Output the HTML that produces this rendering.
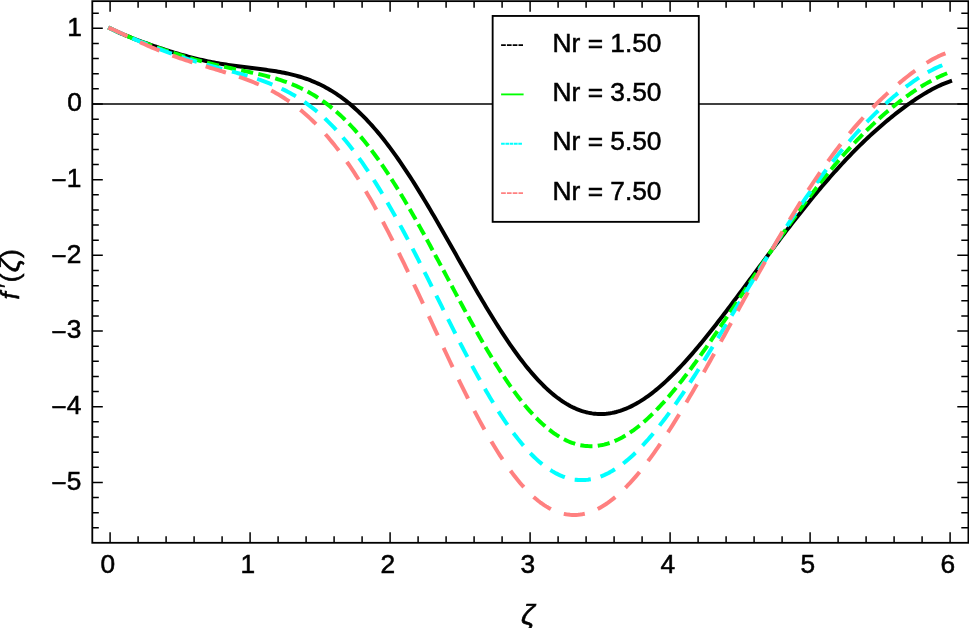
<!DOCTYPE html>
<html><head><meta charset="utf-8"><title>plot</title>
<style>
html,body{margin:0;padding:0;background:#fff;overflow:hidden}
svg{display:block}
text{font-family:"Liberation Sans",sans-serif;fill:#000;stroke:#000;stroke-width:0.55px}
</style></head><body>
<svg width="969" height="628" viewBox="0 0 969 628">
<rect x="0" y="0" width="969" height="628" fill="#fff"/>
<line x1="92.3" y1="104.00" x2="968.4" y2="104.00" stroke="#000" stroke-width="1.4"/>
<path d="M110.10,28.32 L112.10,29.32 L114.10,30.30 L116.10,31.24 L118.10,32.16 L120.10,33.05 L122.10,33.92 L124.10,34.77 L126.10,35.60 L128.10,36.42 L130.10,37.22 L132.10,38.01 L134.10,38.79 L136.10,39.55 L138.10,40.31 L140.10,41.06 L142.10,41.79 L144.10,42.52 L146.10,43.24 L148.10,43.96 L150.10,44.66 L152.10,45.36 L154.10,46.05 L156.10,46.74 L158.10,47.42 L160.10,48.09 L162.10,48.75 L164.10,49.41 L166.10,50.05 L168.10,50.69 L170.10,51.33 L172.10,51.95 L174.10,52.56 L176.10,53.17 L178.10,53.76 L180.10,54.35 L182.10,54.92 L184.10,55.49 L186.10,56.04 L188.10,56.58 L190.10,57.11 L192.10,57.63 L194.10,58.14 L196.10,58.63 L198.10,59.12 L200.10,59.59 L202.10,60.04 L204.10,60.49 L206.10,60.92 L208.10,61.34 L210.10,61.75 L212.10,62.14 L214.10,62.53 L216.10,62.90 L218.10,63.26 L220.10,63.60 L222.10,63.94 L224.10,64.27 L226.10,64.58 L228.10,64.89 L230.10,65.19 L232.10,65.48 L234.10,65.76 L236.10,66.03 L238.10,66.30 L240.10,66.56 L242.10,66.81 L244.10,67.06 L246.10,67.31 L248.10,67.56 L250.10,67.80 L252.10,68.05 L254.10,68.29 L256.10,68.54 L258.10,68.79 L260.10,69.04 L262.10,69.30 L264.10,69.56 L266.10,69.83 L268.10,70.11 L270.10,70.40 L272.10,70.70 L274.10,71.02 L276.10,71.34 L278.10,71.69 L280.10,72.04 L282.10,72.42 L284.10,72.81 L286.10,73.23 L288.10,73.66 L290.10,74.12 L292.10,74.60 L294.10,75.11 L296.10,75.64 L298.10,76.20 L300.10,76.79 L302.10,77.42 L304.10,78.07 L306.10,78.75 L308.10,79.47 L310.10,80.23 L312.10,81.02 L314.10,81.84 L316.10,82.71 L318.10,83.61 L320.10,84.56 L322.10,85.55 L324.10,86.58 L326.10,87.65 L328.10,88.77 L330.10,89.93 L332.10,91.14 L334.10,92.39 L336.10,93.69 L338.10,95.04 L340.10,96.44 L342.10,97.89 L344.10,99.38 L346.10,100.93 L348.10,102.53 L350.10,104.17 L352.10,105.87 L354.10,107.62 L356.10,109.43 L358.10,111.28 L360.10,113.18 L362.10,115.14 L364.10,117.15 L366.10,119.21 L368.10,121.33 L370.10,123.49 L372.10,125.71 L374.10,127.98 L376.10,130.29 L378.10,132.66 L380.10,135.08 L382.10,137.55 L384.10,140.07 L386.10,142.63 L388.10,145.25 L390.10,147.91 L392.10,150.61 L394.10,153.36 L396.10,156.16 L398.10,159.00 L400.10,161.89 L402.10,164.81 L404.10,167.78 L406.10,170.78 L408.10,173.83 L410.10,176.91 L412.10,180.02 L414.10,183.18 L416.10,186.36 L418.10,189.58 L420.10,192.83 L422.10,196.11 L424.10,199.42 L426.10,202.75 L428.10,206.11 L430.10,209.49 L432.10,212.89 L434.10,216.32 L436.10,219.76 L438.10,223.22 L440.10,226.70 L442.10,230.19 L444.10,233.69 L446.10,237.20 L448.10,240.73 L450.10,244.25 L452.10,247.79 L454.10,251.33 L456.10,254.86 L458.10,258.40 L460.10,261.94 L462.10,265.47 L464.10,269.00 L466.10,272.52 L468.10,276.03 L470.10,279.53 L472.10,283.02 L474.10,286.49 L476.10,289.95 L478.10,293.39 L480.10,296.80 L482.10,300.20 L484.10,303.57 L486.10,306.92 L488.10,310.25 L490.10,313.54 L492.10,316.80 L494.10,320.03 L496.10,323.23 L498.10,326.39 L500.10,329.52 L502.10,332.61 L504.10,335.66 L506.10,338.67 L508.10,341.63 L510.10,344.55 L512.10,347.43 L514.10,350.25 L516.10,353.03 L518.10,355.76 L520.10,358.44 L522.10,361.07 L524.10,363.64 L526.10,366.16 L528.10,368.63 L530.10,371.03 L532.10,373.38 L534.10,375.67 L536.10,377.90 L538.10,380.07 L540.10,382.18 L542.10,384.22 L544.10,386.21 L546.10,388.12 L548.10,389.98 L550.10,391.76 L552.10,393.48 L554.10,395.14 L556.10,396.72 L558.10,398.24 L560.10,399.69 L562.10,401.07 L564.10,402.39 L566.10,403.63 L568.10,404.80 L570.10,405.91 L572.10,406.94 L574.10,407.90 L576.10,408.79 L578.10,409.61 L580.10,410.37 L582.10,411.05 L584.10,411.65 L586.10,412.19 L588.10,412.66 L590.10,413.06 L592.10,413.39 L594.10,413.65 L596.10,413.84 L598.10,413.95 L600.10,414.01 L602.10,413.99 L604.10,413.90 L606.10,413.75 L608.10,413.53 L610.10,413.24 L612.10,412.89 L614.10,412.47 L616.10,411.98 L618.10,411.44 L620.10,410.83 L622.10,410.15 L624.10,409.41 L626.10,408.62 L628.10,407.76 L630.10,406.84 L632.10,405.86 L634.10,404.83 L636.10,403.73 L638.10,402.59 L640.10,401.38 L642.10,400.12 L644.10,398.81 L646.10,397.44 L648.10,396.03 L650.10,394.56 L652.10,393.04 L654.10,391.47 L656.10,389.86 L658.10,388.20 L660.10,386.49 L662.10,384.74 L664.10,382.94 L666.10,381.11 L668.10,379.23 L670.10,377.31 L672.10,375.35 L674.10,373.35 L676.10,371.31 L678.10,369.24 L680.10,367.14 L682.10,365.00 L684.10,362.82 L686.10,360.62 L688.10,358.38 L690.10,356.12 L692.10,353.82 L694.10,351.50 L696.10,349.15 L698.10,346.78 L700.10,344.38 L702.10,341.96 L704.10,339.51 L706.10,337.04 L708.10,334.56 L710.10,332.05 L712.10,329.53 L714.10,326.99 L716.10,324.43 L718.10,321.85 L720.10,319.26 L722.10,316.66 L724.10,314.05 L726.10,311.42 L728.10,308.78 L730.10,306.13 L732.10,303.48 L734.10,300.81 L736.10,298.14 L738.10,295.46 L740.10,292.77 L742.10,290.08 L744.10,287.39 L746.10,284.69 L748.10,281.99 L750.10,279.29 L752.10,276.59 L754.10,273.88 L756.10,271.18 L758.10,268.48 L760.10,265.78 L762.10,263.08 L764.10,260.39 L766.10,257.70 L768.10,255.01 L770.10,252.33 L772.10,249.66 L774.10,246.99 L776.10,244.33 L778.10,241.68 L780.10,239.03 L782.10,236.40 L784.10,233.77 L786.10,231.15 L788.10,228.55 L790.10,225.95 L792.10,223.37 L794.10,220.80 L796.10,218.24 L798.10,215.69 L800.10,213.16 L802.10,210.64 L804.10,208.13 L806.10,205.64 L808.10,203.16 L810.10,200.70 L812.10,198.26 L814.10,195.83 L816.10,193.42 L818.10,191.03 L820.10,188.65 L822.10,186.29 L824.10,183.95 L826.10,181.63 L828.10,179.32 L830.10,177.04 L832.10,174.77 L834.10,172.53 L836.10,170.30 L838.10,168.09 L840.10,165.90 L842.10,163.74 L844.10,161.59 L846.10,159.47 L848.10,157.36 L850.10,155.28 L852.10,153.22 L854.10,151.18 L856.10,149.16 L858.10,147.16 L860.10,145.19 L862.10,143.23 L864.10,141.30 L866.10,139.39 L868.10,137.50 L870.10,135.64 L872.10,133.79 L874.10,131.97 L876.10,130.17 L878.10,128.39 L880.10,126.64 L882.10,124.91 L884.10,123.20 L886.10,121.51 L888.10,119.84 L890.10,118.20 L892.10,116.58 L894.10,114.98 L896.10,113.41 L898.10,111.86 L900.10,110.33 L902.10,108.82 L904.10,107.34 L906.10,105.88 L908.10,104.45 L910.10,103.04 L912.10,101.65 L914.10,100.30 L916.10,98.96 L918.10,97.65 L920.10,96.37 L922.10,95.12 L924.10,93.90 L926.10,92.71 L928.10,91.54 L930.10,90.41 L932.10,89.32 L934.10,88.26 L936.10,87.24 L938.10,86.26 L940.10,85.32 L942.10,84.42 L944.10,83.57 L946.10,82.78 L948.10,82.03 L950.10,81.35" fill="none" stroke="#000000" stroke-width="4" stroke-linejoin="round" stroke-linecap="square"/>
<path d="M110.10,28.32 L112.10,29.31 L114.10,30.27 L116.10,31.21 L118.10,32.12 L120.10,33.02 L122.10,33.89 L124.10,34.75 L126.10,35.59 L128.10,36.42 L130.10,37.23 L132.10,38.04 L134.10,38.83 L136.10,39.62 L138.10,40.39 L140.10,41.16 L142.10,41.92 L144.10,42.68 L146.10,43.42 L148.10,44.17 L150.10,44.90 L152.10,45.63 L154.10,46.35 L156.10,47.07 L158.10,47.78 L160.10,48.48 L162.10,49.18 L164.10,49.87 L166.10,50.56 L168.10,51.24 L170.10,51.91 L172.10,52.57 L174.10,53.23 L176.10,53.87 L178.10,54.51 L180.10,55.15 L182.10,55.77 L184.10,56.38 L186.10,56.99 L188.10,57.58 L190.10,58.17 L192.10,58.74 L194.10,59.31 L196.10,59.87 L198.10,60.42 L200.10,60.95 L202.10,61.48 L204.10,62.00 L206.10,62.51 L208.10,63.01 L210.10,63.50 L212.10,63.99 L214.10,64.46 L216.10,64.93 L218.10,65.39 L220.10,65.84 L222.10,66.29 L224.10,66.73 L226.10,67.16 L228.10,67.59 L230.10,68.01 L232.10,68.44 L234.10,68.85 L236.10,69.27 L238.10,69.69 L240.10,70.10 L242.10,70.52 L244.10,70.93 L246.10,71.35 L248.10,71.78 L250.10,72.21 L252.10,72.64 L254.10,73.08 L256.10,73.53 L258.10,73.98 L260.10,74.45 L262.10,74.93 L264.10,75.42 L266.10,75.92 L268.10,76.44 L270.10,76.97 L272.10,77.53 L274.10,78.10 L276.10,78.69 L278.10,79.30 L280.10,79.93 L282.10,80.59 L284.10,81.27 L286.10,81.98 L288.10,82.72 L290.10,83.48 L292.10,84.28 L294.10,85.10 L296.10,85.96 L298.10,86.85 L300.10,87.77 L302.10,88.74 L304.10,89.73 L306.10,90.77 L308.10,91.84 L310.10,92.96 L312.10,94.11 L314.10,95.31 L316.10,96.55 L318.10,97.83 L320.10,99.16 L322.10,100.53 L324.10,101.95 L326.10,103.42 L328.10,104.93 L330.10,106.50 L332.10,108.11 L334.10,109.77 L336.10,111.48 L338.10,113.24 L340.10,115.05 L342.10,116.91 L344.10,118.83 L346.10,120.79 L348.10,122.81 L350.10,124.88 L352.10,127.00 L354.10,129.17 L356.10,131.40 L358.10,133.68 L360.10,136.01 L362.10,138.39 L364.10,140.82 L366.10,143.31 L368.10,145.84 L370.10,148.43 L372.10,151.07 L374.10,153.75 L376.10,156.49 L378.10,159.27 L380.10,162.11 L382.10,164.99 L384.10,167.91 L386.10,170.88 L388.10,173.90 L390.10,176.96 L392.10,180.06 L394.10,183.21 L396.10,186.39 L398.10,189.62 L400.10,192.88 L402.10,196.18 L404.10,199.52 L406.10,202.89 L408.10,206.30 L410.10,209.74 L412.10,213.21 L414.10,216.71 L416.10,220.23 L418.10,223.79 L420.10,227.36 L422.10,230.97 L424.10,234.59 L426.10,238.23 L428.10,241.89 L430.10,245.57 L432.10,249.27 L434.10,252.97 L436.10,256.69 L438.10,260.42 L440.10,264.15 L442.10,267.90 L444.10,271.64 L446.10,275.39 L448.10,279.14 L450.10,282.89 L452.10,286.64 L454.10,290.38 L456.10,294.12 L458.10,297.84 L460.10,301.56 L462.10,305.26 L464.10,308.95 L466.10,312.63 L468.10,316.28 L470.10,319.92 L472.10,323.53 L474.10,327.13 L476.10,330.69 L478.10,334.23 L480.10,337.74 L482.10,341.22 L484.10,344.67 L486.10,348.08 L488.10,351.46 L490.10,354.80 L492.10,358.10 L494.10,361.36 L496.10,364.58 L498.10,367.75 L500.10,370.88 L502.10,373.96 L504.10,376.99 L506.10,379.97 L508.10,382.91 L510.10,385.78 L512.10,388.61 L514.10,391.37 L516.10,394.08 L518.10,396.74 L520.10,399.33 L522.10,401.86 L524.10,404.33 L526.10,406.74 L528.10,409.08 L530.10,411.36 L532.10,413.57 L534.10,415.71 L536.10,417.79 L538.10,419.80 L540.10,421.74 L542.10,423.61 L544.10,425.40 L546.10,427.13 L548.10,428.78 L550.10,430.36 L552.10,431.87 L554.10,433.30 L556.10,434.66 L558.10,435.94 L560.10,437.15 L562.10,438.29 L564.10,439.34 L566.10,440.32 L568.10,441.23 L570.10,442.06 L572.10,442.81 L574.10,443.49 L576.10,444.09 L578.10,444.61 L580.10,445.06 L582.10,445.43 L584.10,445.73 L586.10,445.95 L588.10,446.09 L590.10,446.16 L592.10,446.16 L594.10,446.08 L596.10,445.92 L598.10,445.69 L600.10,445.39 L602.10,445.02 L604.10,444.58 L606.10,444.06 L608.10,443.47 L610.10,442.82 L612.10,442.09 L614.10,441.30 L616.10,440.43 L618.10,439.50 L620.10,438.51 L622.10,437.45 L624.10,436.32 L626.10,435.13 L628.10,433.88 L630.10,432.57 L632.10,431.19 L634.10,429.76 L636.10,428.26 L638.10,426.71 L640.10,425.10 L642.10,423.44 L644.10,421.72 L646.10,419.95 L648.10,418.12 L650.10,416.25 L652.10,414.32 L654.10,412.34 L656.10,410.32 L658.10,408.25 L660.10,406.13 L662.10,403.97 L664.10,401.77 L666.10,399.52 L668.10,397.23 L670.10,394.90 L672.10,392.54 L674.10,390.14 L676.10,387.70 L678.10,385.22 L680.10,382.71 L682.10,380.17 L684.10,377.60 L686.10,374.99 L688.10,372.36 L690.10,369.70 L692.10,367.01 L694.10,364.30 L696.10,361.56 L698.10,358.80 L700.10,356.01 L702.10,353.21 L704.10,350.38 L706.10,347.54 L708.10,344.67 L710.10,341.79 L712.10,338.90 L714.10,335.99 L716.10,333.06 L718.10,330.13 L720.10,327.18 L722.10,324.22 L724.10,321.25 L726.10,318.28 L728.10,315.29 L730.10,312.30 L732.10,309.30 L734.10,306.30 L736.10,303.29 L738.10,300.28 L740.10,297.27 L742.10,294.25 L744.10,291.24 L746.10,288.23 L748.10,285.21 L750.10,282.20 L752.10,279.19 L754.10,276.19 L756.10,273.19 L758.10,270.19 L760.10,267.20 L762.10,264.21 L764.10,261.24 L766.10,258.27 L768.10,255.31 L770.10,252.35 L772.10,249.41 L774.10,246.48 L776.10,243.56 L778.10,240.65 L780.10,237.75 L782.10,234.86 L784.10,231.99 L786.10,229.13 L788.10,226.29 L790.10,223.46 L792.10,220.65 L794.10,217.85 L796.10,215.07 L798.10,212.30 L800.10,209.56 L802.10,206.83 L804.10,204.12 L806.10,201.42 L808.10,198.75 L810.10,196.10 L812.10,193.46 L814.10,190.85 L816.10,188.26 L818.10,185.68 L820.10,183.13 L822.10,180.60 L824.10,178.09 L826.10,175.61 L828.10,173.15 L830.10,170.71 L832.10,168.29 L834.10,165.90 L836.10,163.53 L838.10,161.18 L840.10,158.86 L842.10,156.56 L844.10,154.29 L846.10,152.04 L848.10,149.82 L850.10,147.63 L852.10,145.45 L854.10,143.31 L856.10,141.19 L858.10,139.09 L860.10,137.02 L862.10,134.98 L864.10,132.96 L866.10,130.97 L868.10,129.01 L870.10,127.07 L872.10,125.16 L874.10,123.27 L876.10,121.41 L878.10,119.58 L880.10,117.77 L882.10,115.99 L884.10,114.24 L886.10,112.51 L888.10,110.81 L890.10,109.14 L892.10,107.49 L894.10,105.87 L896.10,104.28 L898.10,102.71 L900.10,101.17 L902.10,99.66 L904.10,98.17 L906.10,96.71 L908.10,95.27 L910.10,93.87 L912.10,92.49 L914.10,91.14 L916.10,89.81 L918.10,88.52 L920.10,87.25 L922.10,86.01 L924.10,84.80 L926.10,83.62 L928.10,82.47 L930.10,81.35 L932.10,80.27 L934.10,79.22 L936.10,78.20 L938.10,77.22 L940.10,76.27 L942.10,75.37 L944.10,74.50 L946.10,73.68 L948.10,72.90 L950.10,72.17" fill="none" stroke="#00ff00" stroke-width="4" stroke-dasharray="8.2 9.3" stroke-linejoin="round" stroke-linecap="square"/>
<path d="M110.10,28.32 L112.10,29.25 L114.10,30.18 L116.10,31.10 L118.10,32.01 L120.10,32.91 L122.10,33.80 L124.10,34.69 L126.10,35.57 L128.10,36.44 L130.10,37.31 L132.10,38.17 L134.10,39.02 L136.10,39.86 L138.10,40.70 L140.10,41.53 L142.10,42.35 L144.10,43.17 L146.10,43.98 L148.10,44.78 L150.10,45.58 L152.10,46.36 L154.10,47.14 L156.10,47.92 L158.10,48.68 L160.10,49.44 L162.10,50.18 L164.10,50.92 L166.10,51.65 L168.10,52.38 L170.10,53.09 L172.10,53.80 L174.10,54.49 L176.10,55.18 L178.10,55.86 L180.10,56.53 L182.10,57.19 L184.10,57.84 L186.10,58.49 L188.10,59.13 L190.10,59.75 L192.10,60.37 L194.10,60.98 L196.10,61.59 L198.10,62.18 L200.10,62.77 L202.10,63.35 L204.10,63.93 L206.10,64.50 L208.10,65.06 L210.10,65.62 L212.10,66.17 L214.10,66.72 L216.10,67.26 L218.10,67.81 L220.10,68.35 L222.10,68.88 L224.10,69.42 L226.10,69.96 L228.10,70.50 L230.10,71.03 L232.10,71.58 L234.10,72.12 L236.10,72.67 L238.10,73.22 L240.10,73.79 L242.10,74.35 L244.10,74.93 L246.10,75.51 L248.10,76.11 L250.10,76.71 L252.10,77.33 L254.10,77.97 L256.10,78.61 L258.10,79.28 L260.10,79.96 L262.10,80.66 L264.10,81.38 L266.10,82.11 L268.10,82.88 L270.10,83.66 L272.10,84.47 L274.10,85.30 L276.10,86.16 L278.10,87.05 L280.10,87.97 L282.10,88.92 L284.10,89.90 L286.10,90.91 L288.10,91.96 L290.10,93.04 L292.10,94.16 L294.10,95.32 L296.10,96.51 L298.10,97.74 L300.10,99.02 L302.10,100.33 L304.10,101.69 L306.10,103.09 L308.10,104.54 L310.10,106.03 L312.10,107.56 L314.10,109.15 L316.10,110.78 L318.10,112.46 L320.10,114.18 L322.10,115.96 L324.10,117.79 L326.10,119.67 L328.10,121.59 L330.10,123.58 L332.10,125.61 L334.10,127.69 L336.10,129.83 L338.10,132.02 L340.10,134.27 L342.10,136.56 L344.10,138.91 L346.10,141.32 L348.10,143.78 L350.10,146.29 L352.10,148.85 L354.10,151.47 L356.10,154.14 L358.10,156.86 L360.10,159.64 L362.10,162.46 L364.10,165.34 L366.10,168.27 L368.10,171.25 L370.10,174.28 L372.10,177.36 L374.10,180.48 L376.10,183.66 L378.10,186.88 L380.10,190.15 L382.10,193.46 L384.10,196.81 L386.10,200.21 L388.10,203.65 L390.10,207.13 L392.10,210.65 L394.10,214.21 L396.10,217.81 L398.10,221.44 L400.10,225.10 L402.10,228.80 L404.10,232.53 L406.10,236.29 L408.10,240.08 L410.10,243.90 L412.10,247.74 L414.10,251.60 L416.10,255.49 L418.10,259.39 L420.10,263.32 L422.10,267.26 L424.10,271.22 L426.10,275.19 L428.10,279.17 L430.10,283.16 L432.10,287.16 L434.10,291.16 L436.10,295.17 L438.10,299.18 L440.10,303.19 L442.10,307.20 L444.10,311.20 L446.10,315.20 L448.10,319.19 L450.10,323.17 L452.10,327.14 L454.10,331.10 L456.10,335.04 L458.10,338.96 L460.10,342.86 L462.10,346.74 L464.10,350.60 L466.10,354.43 L468.10,358.23 L470.10,362.01 L472.10,365.75 L474.10,369.46 L476.10,373.14 L478.10,376.77 L480.10,380.37 L482.10,383.93 L484.10,387.45 L486.10,390.92 L488.10,394.34 L490.10,397.72 L492.10,401.05 L494.10,404.33 L496.10,407.56 L498.10,410.73 L500.10,413.84 L502.10,416.90 L504.10,419.90 L506.10,422.84 L508.10,425.72 L510.10,428.53 L512.10,431.28 L514.10,433.97 L516.10,436.58 L518.10,439.13 L520.10,441.62 L522.10,444.03 L524.10,446.36 L526.10,448.63 L528.10,450.82 L530.10,452.94 L532.10,454.99 L534.10,456.96 L536.10,458.85 L538.10,460.66 L540.10,462.40 L542.10,464.05 L544.10,465.63 L546.10,467.13 L548.10,468.54 L550.10,469.88 L552.10,471.13 L554.10,472.31 L556.10,473.40 L558.10,474.41 L560.10,475.33 L562.10,476.18 L564.10,476.94 L566.10,477.62 L568.10,478.21 L570.10,478.72 L572.10,479.15 L574.10,479.50 L576.10,479.77 L578.10,479.95 L580.10,480.06 L582.10,480.08 L584.10,480.02 L586.10,479.88 L588.10,479.66 L590.10,479.36 L592.10,478.98 L594.10,478.52 L596.10,477.98 L598.10,477.37 L600.10,476.68 L602.10,475.92 L604.10,475.08 L606.10,474.16 L608.10,473.17 L610.10,472.11 L612.10,470.98 L614.10,469.77 L616.10,468.50 L618.10,467.16 L620.10,465.74 L622.10,464.27 L624.10,462.72 L626.10,461.11 L628.10,459.44 L630.10,457.71 L632.10,455.91 L634.10,454.05 L636.10,452.13 L638.10,450.16 L640.10,448.13 L642.10,446.04 L644.10,443.90 L646.10,441.70 L648.10,439.46 L650.10,437.16 L652.10,434.81 L654.10,432.41 L656.10,429.97 L658.10,427.48 L660.10,424.95 L662.10,422.37 L664.10,419.76 L666.10,417.10 L668.10,414.40 L670.10,411.66 L672.10,408.89 L674.10,406.08 L676.10,403.24 L678.10,400.36 L680.10,397.46 L682.10,394.52 L684.10,391.55 L686.10,388.56 L688.10,385.54 L690.10,382.49 L692.10,379.42 L694.10,376.33 L696.10,373.21 L698.10,370.08 L700.10,366.92 L702.10,363.75 L704.10,360.56 L706.10,357.35 L708.10,354.13 L710.10,350.90 L712.10,347.65 L714.10,344.39 L716.10,341.12 L718.10,337.84 L720.10,334.56 L722.10,331.26 L724.10,327.96 L726.10,324.65 L728.10,321.34 L730.10,318.03 L732.10,314.71 L734.10,311.40 L736.10,308.08 L738.10,304.76 L740.10,301.44 L742.10,298.13 L744.10,294.81 L746.10,291.51 L748.10,288.20 L750.10,284.90 L752.10,281.61 L754.10,278.33 L756.10,275.05 L758.10,271.78 L760.10,268.52 L762.10,265.27 L764.10,262.03 L766.10,258.80 L768.10,255.58 L770.10,252.38 L772.10,249.19 L774.10,246.01 L776.10,242.85 L778.10,239.70 L780.10,236.57 L782.10,233.45 L784.10,230.35 L786.10,227.27 L788.10,224.21 L790.10,221.16 L792.10,218.13 L794.10,215.13 L796.10,212.14 L798.10,209.17 L800.10,206.22 L802.10,203.30 L804.10,200.39 L806.10,197.51 L808.10,194.65 L810.10,191.81 L812.10,189.00 L814.10,186.21 L816.10,183.44 L818.10,180.70 L820.10,177.98 L822.10,175.28 L824.10,172.61 L826.10,169.97 L828.10,167.35 L830.10,164.76 L832.10,162.20 L834.10,159.66 L836.10,157.15 L838.10,154.66 L840.10,152.20 L842.10,149.77 L844.10,147.36 L846.10,144.99 L848.10,142.64 L850.10,140.32 L852.10,138.02 L854.10,135.76 L856.10,133.52 L858.10,131.31 L860.10,129.13 L862.10,126.97 L864.10,124.85 L866.10,122.75 L868.10,120.68 L870.10,118.64 L872.10,116.63 L874.10,114.64 L876.10,112.68 L878.10,110.76 L880.10,108.86 L882.10,106.98 L884.10,105.14 L886.10,103.32 L888.10,101.54 L890.10,99.78 L892.10,98.05 L894.10,96.34 L896.10,94.67 L898.10,93.02 L900.10,91.41 L902.10,89.82 L904.10,88.26 L906.10,86.73 L908.10,85.23 L910.10,83.77 L912.10,82.33 L914.10,80.93 L916.10,79.55 L918.10,78.22 L920.10,76.91 L922.10,75.64 L924.10,74.41 L926.10,73.22 L928.10,72.07 L930.10,70.96 L932.10,69.89 L934.10,68.87 L936.10,67.90 L938.10,66.99 L940.10,66.12 L942.10,65.32 L944.10,64.58 L946.10,63.91 L948.10,63.30 L950.10,62.78" fill="none" stroke="#00ffff" stroke-width="4" stroke-dasharray="12.2 14.1" stroke-linejoin="round" stroke-linecap="square"/>
<path d="M110.10,28.32 L112.10,29.17 L114.10,30.04 L116.10,30.94 L118.10,31.85 L120.10,32.78 L122.10,33.72 L124.10,34.66 L126.10,35.61 L128.10,36.57 L130.10,37.52 L132.10,38.47 L134.10,39.41 L136.10,40.35 L138.10,41.29 L140.10,42.21 L142.10,43.13 L144.10,44.04 L146.10,44.93 L148.10,45.82 L150.10,46.69 L152.10,47.55 L154.10,48.40 L156.10,49.24 L158.10,50.06 L160.10,50.87 L162.10,51.67 L164.10,52.45 L166.10,53.23 L168.10,53.99 L170.10,54.73 L172.10,55.47 L174.10,56.19 L176.10,56.90 L178.10,57.61 L180.10,58.30 L182.10,58.98 L184.10,59.65 L186.10,60.31 L188.10,60.96 L190.10,61.61 L192.10,62.24 L194.10,62.87 L196.10,63.50 L198.10,64.12 L200.10,64.73 L202.10,65.34 L204.10,65.94 L206.10,66.55 L208.10,67.15 L210.10,67.75 L212.10,68.35 L214.10,68.95 L216.10,69.55 L218.10,70.15 L220.10,70.76 L222.10,71.37 L224.10,71.99 L226.10,72.61 L228.10,73.24 L230.10,73.88 L232.10,74.52 L234.10,75.18 L236.10,75.85 L238.10,76.53 L240.10,77.22 L242.10,77.93 L244.10,78.65 L246.10,79.39 L248.10,80.14 L250.10,80.92 L252.10,81.71 L254.10,82.52 L256.10,83.36 L258.10,84.22 L260.10,85.11 L262.10,86.02 L264.10,86.95 L266.10,87.92 L268.10,88.91 L270.10,89.93 L272.10,90.99 L274.10,92.08 L276.10,93.20 L278.10,94.35 L280.10,95.54 L282.10,96.77 L284.10,98.03 L286.10,99.34 L288.10,100.68 L290.10,102.07 L292.10,103.49 L294.10,104.96 L296.10,106.48 L298.10,108.03 L300.10,109.64 L302.10,111.29 L304.10,112.99 L306.10,114.73 L308.10,116.53 L310.10,118.37 L312.10,120.27 L314.10,122.21 L316.10,124.21 L318.10,126.26 L320.10,128.36 L322.10,130.52 L324.10,132.73 L326.10,134.99 L328.10,137.31 L330.10,139.68 L332.10,142.11 L334.10,144.59 L336.10,147.13 L338.10,149.72 L340.10,152.37 L342.10,155.07 L344.10,157.83 L346.10,160.65 L348.10,163.51 L350.10,166.44 L352.10,169.42 L354.10,172.45 L356.10,175.54 L358.10,178.68 L360.10,181.87 L362.10,185.12 L364.10,188.41 L366.10,191.76 L368.10,195.16 L370.10,198.61 L372.10,202.10 L374.10,205.64 L376.10,209.23 L378.10,212.87 L380.10,216.55 L382.10,220.27 L384.10,224.04 L386.10,227.85 L388.10,231.69 L390.10,235.58 L392.10,239.50 L394.10,243.46 L396.10,247.45 L398.10,251.48 L400.10,255.53 L402.10,259.62 L404.10,263.73 L406.10,267.87 L408.10,272.03 L410.10,276.22 L412.10,280.43 L414.10,284.65 L416.10,288.90 L418.10,293.15 L420.10,297.43 L422.10,301.71 L424.10,306.00 L426.10,310.30 L428.10,314.61 L430.10,318.92 L432.10,323.23 L434.10,327.54 L436.10,331.84 L438.10,336.15 L440.10,340.44 L442.10,344.73 L444.10,349.00 L446.10,353.26 L448.10,357.50 L450.10,361.73 L452.10,365.94 L454.10,370.12 L456.10,374.29 L458.10,378.42 L460.10,382.53 L462.10,386.60 L464.10,390.65 L466.10,394.66 L468.10,398.63 L470.10,402.56 L472.10,406.45 L474.10,410.30 L476.10,414.11 L478.10,417.87 L480.10,421.58 L482.10,425.24 L484.10,428.84 L486.10,432.40 L488.10,435.89 L490.10,439.33 L492.10,442.71 L494.10,446.03 L496.10,449.29 L498.10,452.48 L500.10,455.61 L502.10,458.66 L504.10,461.65 L506.10,464.57 L508.10,467.42 L510.10,470.19 L512.10,472.89 L514.10,475.51 L516.10,478.06 L518.10,480.53 L520.10,482.92 L522.10,485.23 L524.10,487.46 L526.10,489.60 L528.10,491.66 L530.10,493.64 L532.10,495.54 L534.10,497.35 L536.10,499.07 L538.10,500.71 L540.10,502.26 L542.10,503.72 L544.10,505.09 L546.10,506.38 L548.10,507.57 L550.10,508.68 L552.10,509.70 L554.10,510.62 L556.10,511.46 L558.10,512.21 L560.10,512.87 L562.10,513.44 L564.10,513.92 L566.10,514.31 L568.10,514.61 L570.10,514.82 L572.10,514.95 L574.10,514.98 L576.10,514.93 L578.10,514.79 L580.10,514.56 L582.10,514.25 L584.10,513.85 L586.10,513.36 L588.10,512.80 L590.10,512.14 L592.10,511.40 L594.10,510.59 L596.10,509.68 L598.10,508.70 L600.10,507.64 L602.10,506.50 L604.10,505.28 L606.10,503.99 L608.10,502.62 L610.10,501.17 L612.10,499.65 L614.10,498.06 L616.10,496.39 L618.10,494.66 L620.10,492.86 L622.10,490.98 L624.10,489.04 L626.10,487.04 L628.10,484.97 L630.10,482.84 L632.10,480.64 L634.10,478.39 L636.10,476.08 L638.10,473.70 L640.10,471.28 L642.10,468.79 L644.10,466.25 L646.10,463.66 L648.10,461.02 L650.10,458.33 L652.10,455.59 L654.10,452.80 L656.10,449.97 L658.10,447.09 L660.10,444.17 L662.10,441.21 L664.10,438.21 L666.10,435.17 L668.10,432.09 L670.10,428.97 L672.10,425.82 L674.10,422.63 L676.10,419.42 L678.10,416.17 L680.10,412.89 L682.10,409.58 L684.10,406.25 L686.10,402.89 L688.10,399.51 L690.10,396.10 L692.10,392.67 L694.10,389.21 L696.10,385.74 L698.10,382.25 L700.10,378.74 L702.10,375.22 L704.10,371.68 L706.10,368.13 L708.10,364.56 L710.10,360.98 L712.10,357.39 L714.10,353.79 L716.10,350.18 L718.10,346.57 L720.10,342.94 L722.10,339.32 L724.10,335.68 L726.10,332.05 L728.10,328.41 L730.10,324.76 L732.10,321.12 L734.10,317.48 L736.10,313.84 L738.10,310.20 L740.10,306.56 L742.10,302.93 L744.10,299.30 L746.10,295.68 L748.10,292.07 L750.10,288.46 L752.10,284.86 L754.10,281.26 L756.10,277.68 L758.10,274.11 L760.10,270.55 L762.10,267.00 L764.10,263.46 L766.10,259.94 L768.10,256.43 L770.10,252.94 L772.10,249.46 L774.10,246.00 L776.10,242.55 L778.10,239.13 L780.10,235.72 L782.10,232.33 L784.10,228.96 L786.10,225.61 L788.10,222.29 L790.10,218.98 L792.10,215.70 L794.10,212.44 L796.10,209.20 L798.10,205.99 L800.10,202.81 L802.10,199.65 L804.10,196.51 L806.10,193.40 L808.10,190.32 L810.10,187.27 L812.10,184.24 L814.10,181.25 L816.10,178.28 L818.10,175.35 L820.10,172.44 L822.10,169.56 L824.10,166.72 L826.10,163.90 L828.10,161.12 L830.10,158.37 L832.10,155.65 L834.10,152.96 L836.10,150.31 L838.10,147.69 L840.10,145.10 L842.10,142.55 L844.10,140.02 L846.10,137.54 L848.10,135.08 L850.10,132.66 L852.10,130.27 L854.10,127.92 L856.10,125.59 L858.10,123.31 L860.10,121.05 L862.10,118.83 L864.10,116.64 L866.10,114.48 L868.10,112.35 L870.10,110.26 L872.10,108.19 L874.10,106.16 L876.10,104.16 L878.10,102.19 L880.10,100.24 L882.10,98.33 L884.10,96.45 L886.10,94.59 L888.10,92.76 L890.10,90.96 L892.10,89.19 L894.10,87.45 L896.10,85.73 L898.10,84.03 L900.10,82.37 L902.10,80.73 L904.10,79.11 L906.10,77.52 L908.10,75.96 L910.10,74.43 L912.10,72.92 L914.10,71.44 L916.10,69.99 L918.10,68.57 L920.10,67.18 L922.10,65.82 L924.10,64.49 L926.10,63.21 L928.10,61.96 L930.10,60.75 L932.10,59.59 L934.10,58.48 L936.10,57.42 L938.10,56.42 L940.10,55.49 L942.10,54.62 L944.10,53.83 L946.10,53.13 L948.10,52.51 L950.10,52.00" fill="none" stroke="#ff8080" stroke-width="4" stroke-dasharray="17.2 17.8" stroke-linejoin="round" stroke-linecap="square"/>
<path d="M110.10,542.8v-10.5M110.10,1.15v10.5M138.10,542.8v-6.5M138.10,1.15v6.5M166.10,542.8v-6.5M166.10,1.15v6.5M194.10,542.8v-6.5M194.10,1.15v6.5M222.10,542.8v-6.5M222.10,1.15v6.5M250.10,542.8v-10.5M250.10,1.15v10.5M278.10,542.8v-6.5M278.10,1.15v6.5M306.10,542.8v-6.5M306.10,1.15v6.5M334.10,542.8v-6.5M334.10,1.15v6.5M362.10,542.8v-6.5M362.10,1.15v6.5M390.10,542.8v-10.5M390.10,1.15v10.5M418.10,542.8v-6.5M418.10,1.15v6.5M446.10,542.8v-6.5M446.10,1.15v6.5M474.10,542.8v-6.5M474.10,1.15v6.5M502.10,542.8v-6.5M502.10,1.15v6.5M530.10,542.8v-10.5M530.10,1.15v10.5M558.10,542.8v-6.5M558.10,1.15v6.5M586.10,542.8v-6.5M586.10,1.15v6.5M614.10,542.8v-6.5M614.10,1.15v6.5M642.10,542.8v-6.5M642.10,1.15v6.5M670.10,542.8v-10.5M670.10,1.15v10.5M698.10,542.8v-6.5M698.10,1.15v6.5M726.10,542.8v-6.5M726.10,1.15v6.5M754.10,542.8v-6.5M754.10,1.15v6.5M782.10,542.8v-6.5M782.10,1.15v6.5M810.10,542.8v-10.5M810.10,1.15v10.5M838.10,542.8v-6.5M838.10,1.15v6.5M866.10,542.8v-6.5M866.10,1.15v6.5M894.10,542.8v-6.5M894.10,1.15v6.5M922.10,542.8v-6.5M922.10,1.15v6.5M950.10,542.8v-10.5M950.10,1.15v10.5M92.3,527.81h6.5M968.4,527.81h-7.1M92.3,512.67h6.5M968.4,512.67h-7.1M92.3,497.54h6.5M968.4,497.54h-7.1M92.3,482.40h10.5M968.4,482.40h-11.1M92.3,467.26h6.5M968.4,467.26h-7.1M92.3,452.13h6.5M968.4,452.13h-7.1M92.3,436.99h6.5M968.4,436.99h-7.1M92.3,421.86h6.5M968.4,421.86h-7.1M92.3,406.72h10.5M968.4,406.72h-11.1M92.3,391.58h6.5M968.4,391.58h-7.1M92.3,376.45h6.5M968.4,376.45h-7.1M92.3,361.31h6.5M968.4,361.31h-7.1M92.3,346.18h6.5M968.4,346.18h-7.1M92.3,331.04h10.5M968.4,331.04h-11.1M92.3,315.90h6.5M968.4,315.90h-7.1M92.3,300.77h6.5M968.4,300.77h-7.1M92.3,285.63h6.5M968.4,285.63h-7.1M92.3,270.50h6.5M968.4,270.50h-7.1M92.3,255.36h10.5M968.4,255.36h-11.1M92.3,240.22h6.5M968.4,240.22h-7.1M92.3,225.09h6.5M968.4,225.09h-7.1M92.3,209.95h6.5M968.4,209.95h-7.1M92.3,194.82h6.5M968.4,194.82h-7.1M92.3,179.68h10.5M968.4,179.68h-11.1M92.3,164.54h6.5M968.4,164.54h-7.1M92.3,149.41h6.5M968.4,149.41h-7.1M92.3,134.27h6.5M968.4,134.27h-7.1M92.3,119.14h6.5M968.4,119.14h-7.1M92.3,104.00h10.5M968.4,104.00h-11.1M92.3,88.86h6.5M968.4,88.86h-7.1M92.3,73.73h6.5M968.4,73.73h-7.1M92.3,58.59h6.5M968.4,58.59h-7.1M92.3,43.46h6.5M968.4,43.46h-7.1M92.3,28.32h10.5M968.4,28.32h-11.1M92.3,13.18h6.5M968.4,13.18h-7.1" stroke="#000" stroke-width="1.5" fill="none"/>
<rect x="92.3" y="1.15" width="876.1" height="541.65" fill="none" stroke="#000" stroke-width="1.8"/>
<text x="81.8" y="489.60" font-size="26.3" text-anchor="end"><tspan dx="-0.3" dy="2.5">−</tspan><tspan dx="0.3" dy="-2.5">5</tspan></text>
<text x="81.8" y="413.92" font-size="26.3" text-anchor="end"><tspan dx="-0.3" dy="2.5">−</tspan><tspan dx="0.3" dy="-2.5">4</tspan></text>
<text x="81.8" y="338.24" font-size="26.3" text-anchor="end"><tspan dx="-0.3" dy="2.5">−</tspan><tspan dx="0.3" dy="-2.5">3</tspan></text>
<text x="81.8" y="262.56" font-size="26.3" text-anchor="end"><tspan dx="-0.3" dy="2.5">−</tspan><tspan dx="0.3" dy="-2.5">2</tspan></text>
<text x="81.8" y="186.88" font-size="26.3" text-anchor="end"><tspan dx="-0.3" dy="2.5">−</tspan><tspan dx="0.3" dy="-2.5">1</tspan></text>
<text x="81.8" y="111.20" font-size="26.3" text-anchor="end">0</text>
<text x="81.8" y="35.52" font-size="26.3" text-anchor="end">1</text>
<text x="107.90" y="572.6" font-size="26.3" text-anchor="middle">0</text>
<text x="247.90" y="572.6" font-size="26.3" text-anchor="middle">1</text>
<text x="387.90" y="572.6" font-size="26.3" text-anchor="middle">2</text>
<text x="527.90" y="572.6" font-size="26.3" text-anchor="middle">3</text>
<text x="667.90" y="572.6" font-size="26.3" text-anchor="middle">4</text>
<text x="807.90" y="572.6" font-size="26.3" text-anchor="middle">5</text>
<text x="947.90" y="572.6" font-size="26.3" text-anchor="middle">6</text>
<g transform="translate(521.0,623.9) scale(1.22,1.1)"><text x="0" y="0" font-size="24.6" font-style="italic" stroke-width="0.35">ζ</text></g>
<g transform="translate(19.4,298.6) rotate(-90)" font-size="26.3"><text x="-1" y="0" font-style="italic">f</text><text x="10.6" y="-5" font-size="22">′</text><text x="16.3" y="0">(</text><g transform="translate(26.4,0) scale(1.22,1.1)"><text x="0" y="0" font-size="24.6" font-style="italic" stroke-width="0.35">ζ</text></g><text x="40.6" y="0">)</text></g>
<rect x="492.65" y="15.95" width="206.15" height="205.9" fill="#fff" stroke="#000" stroke-width="1.85"/>
<line x1="501.1" y1="45.05" x2="523.0" y2="45.05" stroke="#000000" stroke-width="1.85" stroke-dasharray="4.7 1.1"/>
<text x="552.6" y="51.75" font-size="26.3">Nr = 1.50</text>
<line x1="501.1" y1="94.4" x2="523.6" y2="94.4" stroke="#00ff00" stroke-width="1.85"/>
<text x="552.6" y="101.10" font-size="26.3">Nr = 3.50</text>
<line x1="501.1" y1="143.75" x2="522.3" y2="143.75" stroke="#00ffff" stroke-width="1.85" stroke-dasharray="3.65 0.65"/>
<text x="552.6" y="150.45" font-size="26.3">Nr = 5.50</text>
<line x1="501.1" y1="193.05" x2="523.0" y2="193.05" stroke="#ff8080" stroke-width="1.85" stroke-dasharray="4.7 1.1"/>
<text x="552.6" y="199.75" font-size="26.3">Nr = 7.50</text>
</svg>
</body></html>
